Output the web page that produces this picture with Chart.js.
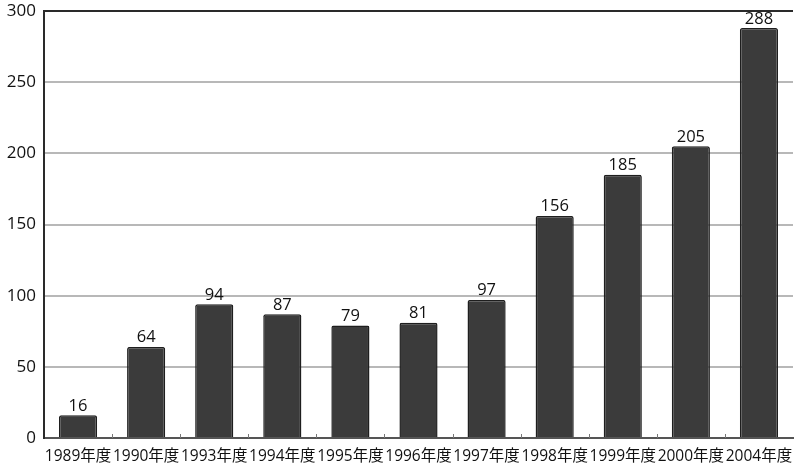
<!DOCTYPE html>
<html>
<head>
<meta charset="utf-8">
<script src="https://cdn.jsdelivr.net/npm/chart.js@4/dist/chart.umd.min.js"></script>
<style>
  html, body { margin: 0; padding: 0; background: #fff; }
  #wrap { width: 794px; height: 466px; position: relative; }
</style>
</head>
<body>
<div id="wrap"><canvas id="c"></canvas></div>
<script>
// Fiscal years and their values
const categories = ['1989年度', '1990年度', '1993年度', '1994年度', '1995年度', '1996年度', '1997年度', '1998年度', '1999年度', '2000年度', '2004年度'];
const values = [16, 64, 94, 87, 79, 81, 97, 156, 185, 205, 288];
const yTicks = [0, 50, 100, 150, 200, 250, 300];

const FONT = '"Open Sans", "Noto Sans CJK JP", sans-serif';

// Value labels above each bar
const valueLabels = {
  id: 'valueLabels',
  afterDatasetsDraw(chart) {
    const ctx = chart.ctx;
    const meta = chart.getDatasetMeta(0);
    ctx.save();
    ctx.font = '16.5px ' + FONT;
    ctx.fillStyle = '#111';
    ctx.textAlign = 'center';
    ctx.textBaseline = 'bottom';
    meta.data.forEach((bar, i) => {
      ctx.fillText(String(values[i]), bar.x, bar.y - 1);
    });
    ctx.restore();
  }
};

// Small tick marks between categories on the baseline, plus the top frame line
const frame = {
  id: 'frame',
  afterDraw(chart) {
    const ctx = chart.ctx;
    const area = chart.chartArea;
    const xs = chart.scales.x;
    ctx.save();
    ctx.strokeStyle = '#777';
    ctx.lineWidth = 1;
    for (let i = 0; i < categories.length - 1; i++) {
      const x = Math.round((xs.getPixelForValue(i) + xs.getPixelForValue(i + 1)) / 2) + 0.5;
      ctx.beginPath();
      ctx.moveTo(x, area.bottom);
      ctx.lineTo(x, area.bottom - 4);
      ctx.stroke();
    }
    ctx.strokeStyle = '#2a2a2a';
    ctx.lineWidth = 2;
    ctx.beginPath();
    ctx.moveTo(area.left, area.top);
    ctx.lineTo(area.right, area.top);
    ctx.stroke();
    ctx.restore();
  }
};

new Chart(document.getElementById('c'), {
  type: 'bar',
  data: {
    labels: categories,
    datasets: [{
      data: values,
      backgroundColor: '#3b3b3b',
      borderColor: '#1e1e1e',
      borderWidth: 1.5,
      borderRadius: 2,
      borderSkipped: 'bottom',
      categoryPercentage: 0.56,
      barPercentage: 1.0
    }]
  },
  options: {
    responsive: true,
    maintainAspectRatio: false,
    animation: false,
    layout: { padding: { top: 11, right: 1, left: 0, bottom: 0 } },
    plugins: { legend: { display: false }, tooltip: { enabled: false } },
    scales: {
      x: {
        grid: { display: false, drawTicks: false },
        border: { display: true, color: '#555', width: 2 },
        ticks: {
          font: { size: 15.5, family: FONT },
          color: '#111',
          padding: 9,
          maxRotation: 0,
          autoSkip: false
        },
        afterFit(scale) {
          scale.height = 28;
          scale.paddingLeft = 0;
          scale.paddingRight = 0;
        }
      },
      y: {
        min: 0,
        max: 300,
        afterBuildTicks(scale) { scale.ticks = yTicks.map(v => ({ value: v })); },
        grid: {
          color: (c) => (c.tick && (c.tick.value === 0 || c.tick.value === 300)) ? 'rgba(0,0,0,0)' : '#b8b8b8',
          lineWidth: 2,
          drawTicks: false
        },
        border: { display: true, color: '#2a2a2a', width: 2 },
        ticks: {
          font: { size: 17, family: FONT },
          color: '#111',
          padding: 8
        },
        afterFit(scale) {
          scale.width = 44;
          scale.paddingTop = 0;
          scale.paddingBottom = 0;
        }
      }
    }
  },
  plugins: [valueLabels, frame]
});
</script>
</body>
</html>
